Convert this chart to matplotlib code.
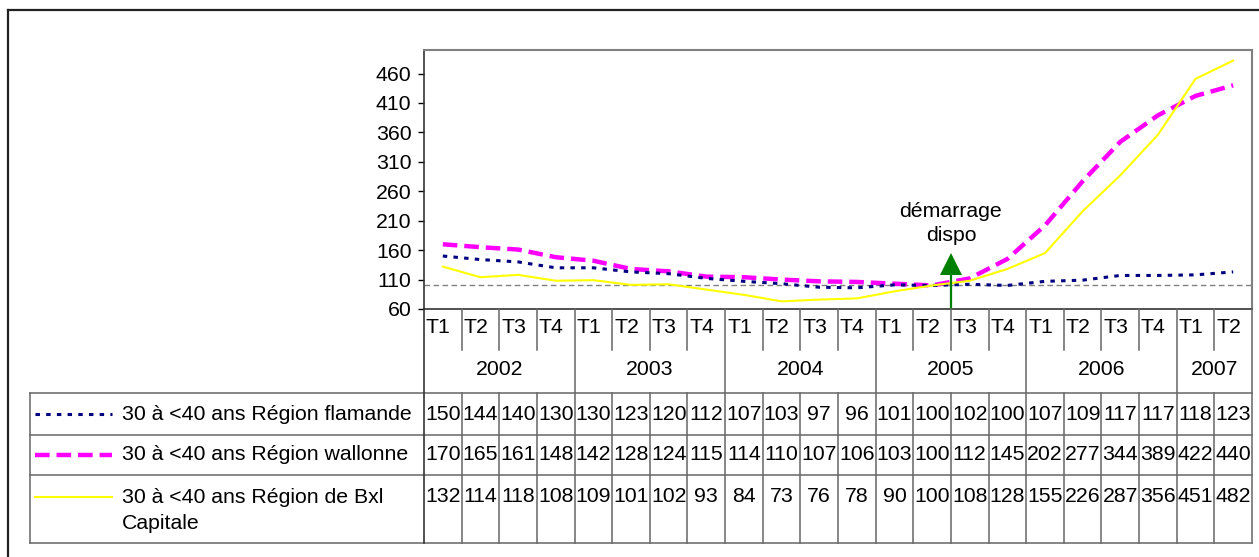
import matplotlib
matplotlib.use("Agg")
import matplotlib.pyplot as plt
from matplotlib.lines import Line2D
import numpy as np

plt.rcParams['font.family'] = ['Liberation Sans', 'DejaVu Sans']
plt.rcParams['lines.scale_dashes'] = False

# ---------------- data ----------------
quarters = ["T1", "T2", "T3", "T4",
            "T1", "T2", "T3", "T4",
            "T1", "T2", "T3", "T4",
            "T1", "T2", "T3", "T4",
            "T1", "T2", "T3", "T4",
            "T1", "T2"]
years = ["2002", "2003", "2004", "2005", "2006", "2007"]
quarters_per_year = [4, 4, 4, 4, 4, 2]

labels = ["30 à <40 ans Région flamande",
          "30 à <40 ans Région wallonne",
          "30 à <40 ans Région de Bxl\nCapitale"]
flamande = [150, 144, 140, 130, 130, 123, 120, 112, 107, 103, 97, 96,
            101, 100, 102, 100, 107, 109, 117, 117, 118, 123]
wallonne = [170, 165, 161, 148, 142, 128, 124, 115, 114, 110, 107, 106,
            103, 100, 112, 145, 202, 277, 344, 389, 422, 440]
bxl = [132, 114, 118, 108, 109, 101, 102, 93, 84, 73, 76, 78,
       90, 100, 108, 128, 155, 226, 287, 356, 451, 482]
reference_level = 100
yticks = [60, 110, 160, 210, 260, 310, 360, 410, 460]
annotation_text = "démarrage\ndispo"
start_position = 13.5  # between 2005 T2 and T3

# ---------------- layout ----------------
W, H = 1259, 557
DPI = 100
fig = plt.figure(figsize=(W / DPI, H / DPI), dpi=DPI)

ax_l, ax_r, ax_t, ax_b = 424, 1252, 50, 309
ax = fig.add_axes([ax_l / W, (H - ax_b) / H, (ax_r - ax_l) / W, (ax_b - ax_t) / H])
n = len(quarters)
x = np.arange(n)
ax.set_xlim(-0.5, n - 0.5)
ax.set_ylim(60, 500)
ax.set_yticks(yticks)
ax.set_xticks([])
FS = 15.3
ax.tick_params(axis='y', direction='out', length=4, width=1, labelsize=FS, pad=5, colors='black')
for s in ['top', 'right']:
    ax.spines[s].set_color('#808080')
    ax.spines[s].set_linewidth(1.5)
for s in ['left', 'bottom']:
    ax.spines[s].set_color('#333333')
    ax.spines[s].set_linewidth(1.2)

ax.axhline(reference_level, color='#808080', lw=1.0, dashes=(4, 2.5), zorder=1)
ax.plot(x, flamande, color='#000080', lw=2.2, dashes=(3.2, 4.5), zorder=3)
ax.plot(x, wallonne, color='#FF00FF', lw=3.2, dashes=(10.5, 5.0), zorder=2)
ax.plot(x, bxl, color='#FFFF00', lw=1.5, zorder=4)

# annotation arrow
ax.plot([start_position, start_position], [60, 120], color='#008000', lw=1.6, zorder=5,
        solid_capstyle='butt')
ax.plot([start_position], [137], marker='^', markersize=15.5, color='#008000',
        markeredgewidth=0, zorder=5)
ax.text(start_position, 205, annotation_text, ha='center', va='center', fontsize=FS,
        linespacing=1.35, zorder=6)

# ---------------- data table ----------------
tb_l, tb_b = 30, 543
tab = fig.add_axes([tb_l / W, (H - tb_b) / H, (ax_r - tb_l) / W, (tb_b - ax_b) / H])
unit = (ax_r - ax_l) / n


def px2x(px):
    return -0.5 + (px - ax_l) / unit


tab.set_xlim(px2x(tb_l), n - 0.5)
tab.set_ylim(tb_b, ax_b)
tab.axis('off')

lc = '#666666'
lw = 1.1
row_T_bottom = 350

# horizontal lines
for yy in [393, 435, 475, 543]:
    tab.plot([px2x(tb_l), n - 0.5], [yy, yy], color=lc, lw=lw, clip_on=False)
# left border of legend column
tab.plot([px2x(tb_l), px2x(tb_l)], [393, 543], color=lc, lw=lw, clip_on=False)
# axis line continues down
tab.plot([-0.5, -0.5], [ax_b, 543], color='#333333', lw=1.2, clip_on=False)
tab.plot([n - 0.5, n - 0.5], [ax_b, 543], color=lc, lw=lw, clip_on=False)

# vertical separators
year_bounds = np.cumsum(quarters_per_year)[:-1]
for b in range(1, n):
    xb = b - 0.5
    if b in year_bounds:
        tab.plot([xb, xb], [ax_b, 543], color=lc, lw=lw, clip_on=False)
    else:
        tab.plot([xb, xb], [ax_b, row_T_bottom], color=lc, lw=lw, clip_on=False)
        tab.plot([xb, xb], [393, 543], color=lc, lw=lw, clip_on=False)

# quarter labels
for i, q in enumerate(quarters):
    tab.text(i - 0.12, 328, q, ha='center', va='center', fontsize=FS)

# year labels
start = 0
for yname, k in zip(years, quarters_per_year):
    tab.text(start + (k - 1) / 2, 370, yname, ha='center', va='center', fontsize=FS)
    start += k

# series rows
series = [flamande, wallonne, bxl]
styles = [dict(color='#000080', lw=2.2, dashes=(3.2, 4.5)),
          dict(color='#FF00FF', lw=3.2, dashes=(10.5, 5.0)),
          dict(color='#FFFF00', lw=1.5)]
text_y = [414, 455, 497]
for vals, lab, st, ty in zip(series, labels, styles, text_y):
    tab.plot([px2x(35), px2x(112)], [ty, ty], clip_on=False, **st)
    nl = lab.count('\n')
    tab.text(px2x(122), ty + nl * 13.5, lab, ha='left', va='center', fontsize=FS,
             linespacing=1.45, clip_on=False)
    for i, v in enumerate(vals):
        tab.text(i, ty, str(v), ha='center', va='center', fontsize=FS)

# outer frame (partially visible)
fig.add_artist(Line2D([8 / W, 8 / W], [0, 1 - 10 / H], color='#222222', lw=1.6))
fig.add_artist(Line2D([8 / W, 1], [1 - 10 / H, 1 - 10 / H], color='#222222', lw=1.6))

fig.savefig("out.png", dpi=DPI)
